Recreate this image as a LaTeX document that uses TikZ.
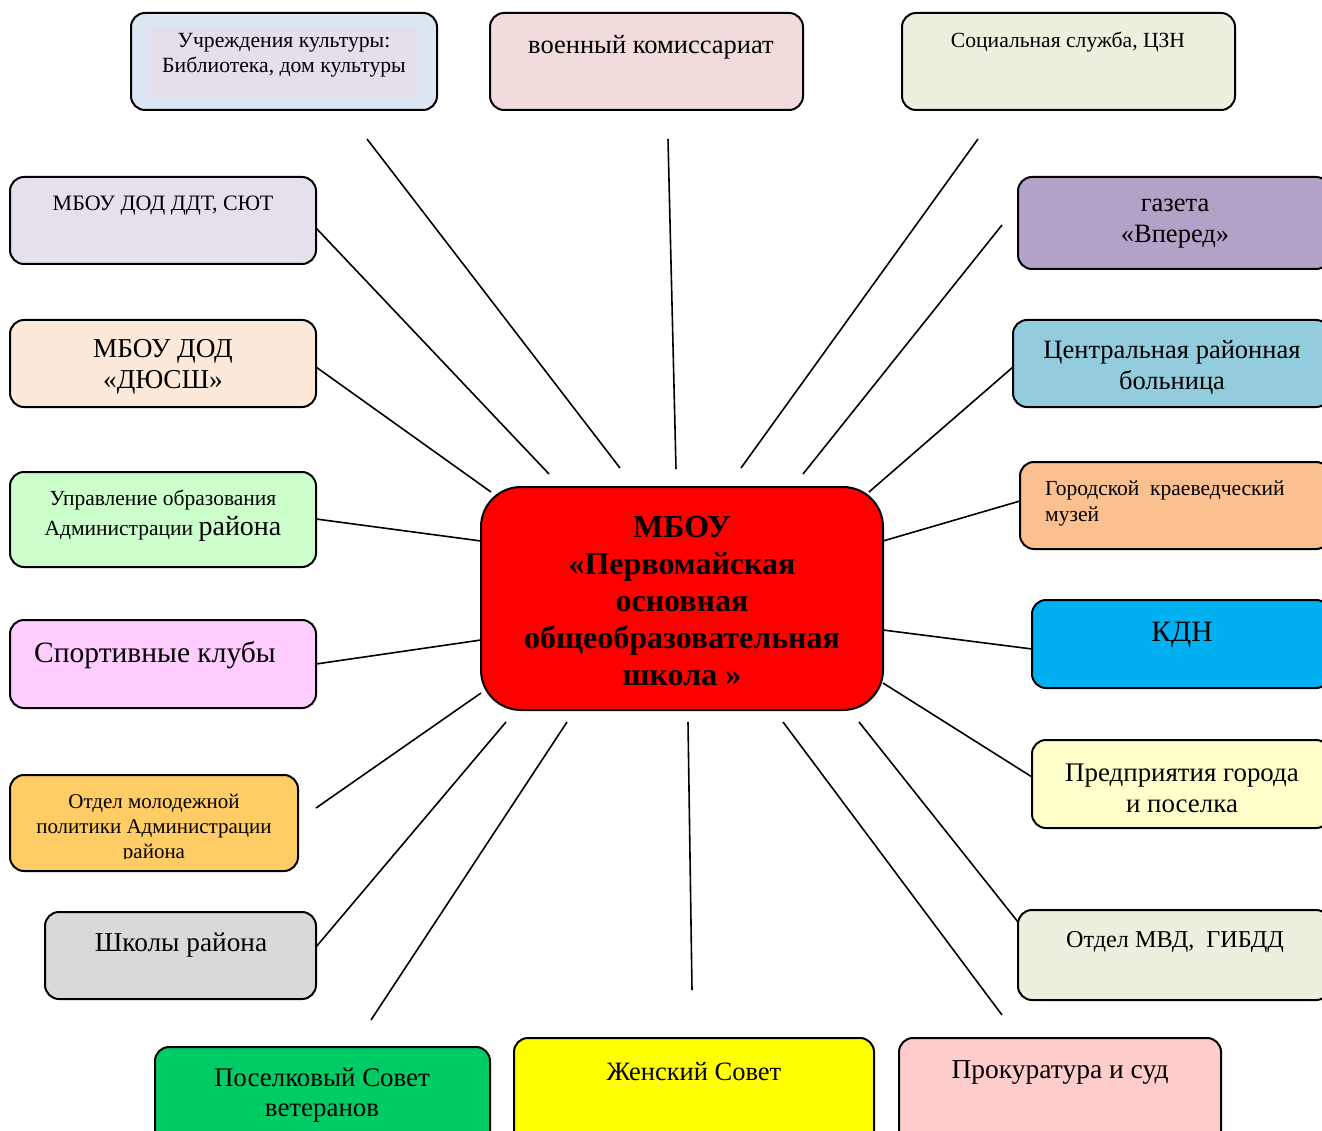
\documentclass[tikz,border=0pt]{standalone}
\usepackage{fontspec}
\setmainfont{Liberation Serif}
\definecolor{cCult}{HTML}{DCE6F2}
\definecolor{cCultIn}{HTML}{E5DFEC}
\definecolor{cVoen}{HTML}{F2DCDB}
\definecolor{cSoc}{HTML}{EBF1DE}
\definecolor{cDdt}{HTML}{E5E0EC}
\definecolor{cGaz}{HTML}{B2A2C7}
\definecolor{cDyu}{HTML}{FDE9D9}
\definecolor{cCrb}{HTML}{93CDDD}
\definecolor{cUpr}{HTML}{CCFFCC}
\definecolor{cMuz}{HTML}{FAC090}
\definecolor{cSpo}{HTML}{FFCCFF}
\definecolor{cKdn}{HTML}{00B0F0}
\definecolor{cMol}{HTML}{FFCC66}
\definecolor{cPre}{HTML}{FFFFCC}
\definecolor{cShk}{HTML}{D9D9D9}
\definecolor{cMvd}{HTML}{EBF1DE}
\definecolor{cPos}{HTML}{00CC66}
\definecolor{cZhe}{HTML}{FFFF00}
\definecolor{cPro}{HTML}{FFCCCC}
\definecolor{cCen}{HTML}{FF0000}
\newcommand{\fs}[2]{\fontsize{#1pt}{#2pt}\selectfont}
\begin{document}
\begin{tikzpicture}[x=1pt,y=-1pt,
  box/.style={draw=black, line width=2pt, rounded corners=14pt, anchor=north west, inner sep=0pt, outer sep=0pt},
  txt/.style={align=center, inner sep=0pt, text=black},
  link/.style={draw=black, line width=1.6pt}]
\clip (0,0) rectangle (1322,1131);
\fill[white] (0,0) rectangle (1322,1131);

% boxes
\node[box, fill=cCult, minimum width=306pt, minimum height=97pt] (cult) at (131,13) {};
\node[fill=cCultIn, anchor=north west, minimum width=268pt, minimum height=70pt, inner sep=0pt] (cultin) at (150,27) {};
\node[box, fill=cVoen, minimum width=313pt, minimum height=97pt] (voen) at (490,13) {};
\node[box, fill=cSoc, minimum width=333pt, minimum height=97pt] (soc) at (902,13) {};
\node[box, fill=cDdt, minimum width=306pt, minimum height=87pt] (ddt) at (10,177) {};
\node[box, fill=cGaz, minimum width=312pt, minimum height=92pt] (gaz) at (1018,177) {};
\node[box, fill=cDyu, minimum width=306pt, minimum height=87pt] (dyu) at (10,320) {};
\node[box, fill=cCrb, minimum width=317pt, minimum height=87pt] (crb) at (1013,320) {};
\node[box, fill=cUpr, minimum width=306pt, minimum height=95pt] (upr) at (10,472) {};
\node[box, fill=cMuz, minimum width=310pt, minimum height=87pt] (muz) at (1020,462) {};
\node[box, fill=cSpo, minimum width=306pt, minimum height=88pt] (spo) at (10,620) {};
\node[box, fill=cKdn, minimum width=298pt, minimum height=88pt] (kdn) at (1032,600) {};
\node[box, fill=cMol, minimum width=288pt, minimum height=96pt] (mol) at (10,775) {};
\node[box, fill=cPre, minimum width=298pt, minimum height=88pt] (pre) at (1032,740) {};
\node[box, fill=cShk, minimum width=271pt, minimum height=87pt] (shk) at (45,912) {};
\node[box, fill=cMvd, minimum width=312pt, minimum height=90pt] (mvd) at (1018,910) {};
\node[box, fill=cPos, minimum width=335pt, minimum height=100pt] (pos) at (155,1047) {};
\node[box, fill=cZhe, minimum width=360pt, minimum height=110pt] (zhe) at (514,1038) {};
\node[box, fill=cPro, minimum width=322pt, minimum height=110pt] (pro) at (899,1038) {};
\node[box, fill=cCen, rounded corners=40pt, minimum width=402pt, minimum height=223pt] (cen) at (481,487) {};

% texts
\node[txt, font=\fs{21.7}{25}] (cultT) at (284,55) {Учреждения культуры:\\Библиотека, дом культуры};
\node[txt, font=\fs{26.5}{30}] (voenT) at (651,47) {военный комиссариат};
\node[txt, font=\fs{21.6}{25}] (socT) at (1068,42) {Социальная служба, ЦЗН};
\node[txt, font=\fs{22}{25}] (ddtT) at (163,206) {МБОУ ДОД ДДТ, СЮТ};
\node[txt, font=\fs{26.5}{31}] (gazT) at (1175,224) {газета\\«Вперед»};
\node[txt, font=\fs{27.3}{31}] (dyuT) at (163,367) {МБОУ ДОД\\«ДЮСШ»};
\node[txt, font=\fs{26.5}{31}] (crbT) at (1172,367) {Центральная районная\\больница};
\node[txt, font=\fs{21.5}{30}] (uprT) at (163,516) {Управление образования\\Администрации {\fs{28}{30}района}};
\node[txt, align=left, anchor=west, font=\fs{21.5}{26}] (muzT) at (1045,503) {Городской\ \ краеведческий\\музей};
\node[txt, font=\fs{29.5}{32}] (spoT) at (155,655) {Спортивные клубы};
\node[txt, font=\fs{29.5}{32}] (kdnT) at (1182,635) {КДН};
\begin{scope}
\clip (10,775) rectangle (298,858);
\node[txt, font=\fs{21}{25}] (molT) at (154,829) {Отдел молодежной\\политики Администрации\\района};
\end{scope}
\node[txt, font=\fs{26.9}{31}] (preT) at (1182,788) {Предприятия города\\и поселка};
\node[txt, font=\fs{27.3}{31}] (shkT) at (181,945) {Школы района};
\node[txt, font=\fs{24.2}{28}] (mvdT) at (1175,942) {Отдел МВД,\ \ ГИБДД};
\node[txt, font=\fs{26.9}{30}] (posT) at (322,1095) {Поселковый Совет\\ветеранов};
\node[txt, font=\fs{26.5}{30}] (zheT) at (694,1072) {Женский Совет};
\node[txt, font=\fs{27.5}{30}] (proT) at (1060,1072) {Прокуратура и суд};
\node[txt, font=\bfseries\fs{32}{37.2}] (cenT) at (682,601) {МБОУ\\«Первомайская\\основная\\общеобразовательная\\школа »};

% free ends of connectors
\coordinate (eCultA) at (367,139);  \coordinate (eCultB) at (620,468);
\coordinate (eVoenA) at (668,139);  \coordinate (eVoenB) at (676,469);
\coordinate (eSocA) at (978,139);   \coordinate (eSocB) at (741,468);
\coordinate (eDdtA) at (316,228);   \coordinate (eDdtB) at (549,474);
\coordinate (eGazA) at (1002,225);  \coordinate (eGazB) at (803,474);
\coordinate (eDyuA) at (316,367);   \coordinate (eDyuB) at (491,492);
\coordinate (eCrbA) at (1013,367);  \coordinate (eCrbB) at (869,492);
\coordinate (eUprA) at (316,519);   \coordinate (eUprB) at (481,541);
\coordinate (eMuzA) at (1020,501);  \coordinate (eMuzB) at (883,541);
\coordinate (eSpoA) at (316,664);   \coordinate (eSpoB) at (481,640);
\coordinate (eKdnA) at (1032,649);  \coordinate (eKdnB) at (883,630);
\coordinate (eMolA) at (316,808);   \coordinate (eMolB) at (481,693);
\coordinate (ePreA) at (1032,777);  \coordinate (ePreB) at (883,683);
\coordinate (eShkA) at (316,947);   \coordinate (eShkB) at (506,722);
\coordinate (eMvdA) at (1018,922);  \coordinate (eMvdB) at (859,722);
\coordinate (ePosA) at (371,1020);  \coordinate (ePosB) at (567,722);
\coordinate (eZheA) at (692,990);   \coordinate (eZheB) at (688,722);
\coordinate (eProA) at (1002,1015); \coordinate (eProB) at (783,722);

% connectors
\foreach \n in {Cult,Voen,Soc,Ddt,Gaz,Dyu,Crb,Upr,Muz,Spo,Kdn,Mol,Pre,Shk,Mvd,Pos,Zhe,Pro}
  \draw[link] (e\n A) -- (e\n B);
\end{tikzpicture}
\end{document}
